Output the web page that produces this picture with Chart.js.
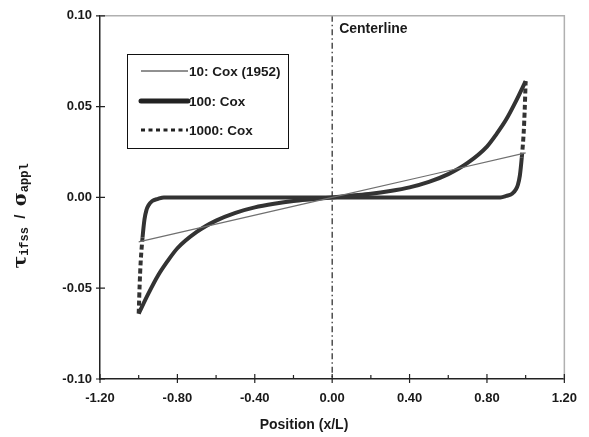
<!DOCTYPE html>
<html>
<head>
<meta charset="utf-8">
<script src="https://cdn.jsdelivr.net/npm/chart.js@4.4.1/dist/chart.umd.min.js"></script>
<style>
  html, body { margin: 0; padding: 0; background: #fff; }
  #wrap { width: 589px; height: 437px; }
</style>
</head>
<body>
<div id="wrap"><canvas id="chart" width="589" height="437"></canvas></div>
<script>
// Axis ticks
const xTicks = [-1.2, -0.8, -0.4, 0, 0.4, 0.8, 1.2];
const xMinorTicks = [-1.0, -0.6, -0.2, 0.2, 0.6, 1.0];
const yTicks = [-0.10, -0.05, 0, 0.05, 0.10];

// 10: Cox (1952) - nearly straight
const x10 = [-1.0, -0.5, 0, 0.5, 1.0];
const y10 = [-0.0245, -0.0122, 0, 0.0122, 0.0245];

// 100: Cox
const x100 = [-1.0, -0.95, -0.9, -0.85, -0.8, -0.7, -0.6, -0.5, -0.4, -0.3, -0.2, -0.1, 0,
              0.1, 0.2, 0.3, 0.4, 0.5, 0.6, 0.7, 0.8, 0.85, 0.9, 0.95, 1.0];
const y100 = [-0.064, -0.053, -0.043, -0.035, -0.028, -0.019, -0.0128, -0.0085, -0.0055, -0.0035, -0.002, -0.001, 0,
              0.001, 0.002, 0.0035, 0.0055, 0.0085, 0.0128, 0.019, 0.028, 0.035, 0.043, 0.053, 0.064];

// 1000: Cox
const x1000 = [-1.0, -0.995, -0.99, -0.98, -0.97, -0.96, -0.95, -0.93, -0.9, -0.87, 0,
               0.87, 0.9, 0.93, 0.95, 0.96, 0.97, 0.98, 0.99, 0.995, 1.0];
const y1000 = [-0.064, -0.048, -0.036, -0.022, -0.012, -0.007, -0.0045, -0.002, -0.0008, 0, 0,
               0, 0.0008, 0.002, 0.0045, 0.007, 0.012, 0.022, 0.036, 0.048, 0.064];

const toPoints = (xs, ys) => xs.map((x, i) => ({ x: x, y: ys[i] }));

const FONT = '"Liberation Sans", Arial, sans-serif';
const TEXT = '#1a1a1a';

const decorations = {
  id: 'decorations',
  beforeDatasetsDraw(chart) {
    const { ctx, chartArea: a, scales: { x } } = chart;
    const cx = x.getPixelForValue(0);
    ctx.save();
    ctx.strokeStyle = '#222';
    ctx.lineWidth = 1.2;
    ctx.setLineDash([6, 3, 1.5, 3]);
    ctx.beginPath();
    ctx.moveTo(cx, a.top);
    ctx.lineTo(cx, a.bottom);
    ctx.stroke();
    ctx.restore();
  },
  afterDraw(chart) {
    const { ctx, chartArea: a, scales: { x, y } } = chart;
    ctx.save();

    // light top and right frame
    ctx.strokeStyle = '#b0b0b0';
    ctx.lineWidth = 1.5;
    ctx.beginPath();
    ctx.moveTo(a.left, a.top);
    ctx.lineTo(a.right, a.top);
    ctx.lineTo(a.right, a.bottom);
    ctx.stroke();

    // tick marks
    ctx.strokeStyle = '#222';
    ctx.lineWidth = 1.2;
    ctx.beginPath();
    xTicks.forEach(v => {
      const px = x.getPixelForValue(v);
      ctx.moveTo(px, a.bottom - 5);
      ctx.lineTo(px, a.bottom + 4);
    });
    xMinorTicks.forEach(v => {
      const px = x.getPixelForValue(v);
      ctx.moveTo(px, a.bottom - 4);
      ctx.lineTo(px, a.bottom);
    });
    yTicks.forEach(v => {
      const py = y.getPixelForValue(v);
      ctx.moveTo(a.left - 4, py);
      ctx.lineTo(a.left + 5, py);
    });
    ctx.stroke();

    // Centerline label
    ctx.fillStyle = TEXT;
    ctx.font = 'bold 14px ' + FONT;
    ctx.textAlign = 'left';
    ctx.textBaseline = 'middle';
    ctx.fillText('Centerline', x.getPixelForValue(0) + 7, 29);

    // x title
    ctx.textAlign = 'center';
    ctx.fillText('Position (x/L)', 304, 425);

    // y title (rotated, with subscripts)
    ctx.translate(21, 216);
    ctx.rotate(-Math.PI / 2);
    const parts = [
      { t: '\u03C4', f: 'bold 19px "DejaVu Serif", serif', dy: 0 },
      { t: 'ifss', f: 'bold 12px "Liberation Mono", monospace', dy: 4 },
      { t: '  /  ', f: 'bold 15px ' + FONT, dy: 0 },
      { t: '\u03C3', f: 'bold 19px "DejaVu Serif", serif', dy: 0 },
      { t: 'appl', f: 'bold 12px "Liberation Mono", monospace', dy: 4 }
    ];
    let total = 0;
    parts.forEach(p => { ctx.font = p.f; p.w = ctx.measureText(p.t).width; total += p.w; });
    let pos = -total / 2;
    ctx.textAlign = 'left';
    parts.forEach(p => {
      ctx.font = p.f;
      ctx.fillText(p.t, pos, p.dy);
      pos += p.w;
    });
    ctx.restore();

    // legend box
    ctx.save();
    const bx = 127, by = 54, bw = 161, bh = 94;
    ctx.fillStyle = '#fff';
    ctx.fillRect(bx, by, bw, bh);
    ctx.strokeStyle = '#111';
    ctx.lineWidth = 1;
    ctx.strokeRect(bx + 0.5, by + 0.5, bw, bh);
    const rows = [71, 101, 130];
    const styles = [
      { w: 1, dash: [] },
      { w: 5, dash: [] },
      { w: 3, dash: [4, 3.5] }
    ];
    chart.data.datasets.forEach((ds, i) => {
      const ry = rows[i];
      ctx.strokeStyle = '#222';
      ctx.lineWidth = styles[i].w;
      ctx.setLineDash(styles[i].dash);
      ctx.lineCap = i === 1 ? 'round' : 'butt';
      ctx.beginPath();
      ctx.moveTo(141, ry);
      ctx.lineTo(188, ry);
      ctx.stroke();
      ctx.setLineDash([]);
      ctx.fillStyle = TEXT;
      ctx.font = 'bold 13.5px ' + FONT;
      ctx.textAlign = 'left';
      ctx.textBaseline = 'middle';
      ctx.fillText(ds.label, 189, ry + 1);
    });
    ctx.restore();
  }
};

const ctx = document.getElementById('chart').getContext('2d');
new Chart(ctx, {
  type: 'line',
  data: {
    datasets: [
      {
        label: '10: Cox (1952)',
        data: toPoints(x10, y10),
        borderColor: '#707070',
        borderWidth: 1.2,
        pointRadius: 0,
        tension: 0
      },
      {
        label: '100: Cox',
        data: toPoints(x100, y100),
        borderColor: '#333',
        borderWidth: 4,
        pointRadius: 0,
        cubicInterpolationMode: 'monotone'
      },
      {
        label: '1000: Cox',
        data: toPoints(x1000, y1000),
        borderColor: '#333',
        borderWidth: 4,
        pointRadius: 0,
        cubicInterpolationMode: 'monotone',
        segment: {
          borderDash: c => Math.abs(c.p1.parsed.y - c.p0.parsed.y) > 0.011 ? [5, 3] : undefined
        }
      }
    ]
  },
  options: {
    responsive: false,
    animation: false,
    layout: { padding: { top: 12, right: 23, left: 0, bottom: 0 } },
    plugins: {
      legend: { display: false },
      tooltip: { enabled: false }
    },
    scales: {
      x: {
        type: 'linear',
        min: -1.2,
        max: 1.2,
        afterBuildTicks: s => { s.ticks = xTicks.map(v => ({ value: v })); },
        afterFit: s => { s.height = 58; },
        grid: { display: false, drawTicks: false },
        border: { display: true, color: '#222', width: 1.5 },
        ticks: {
          padding: 12,
          color: TEXT,
          font: { family: FONT, size: 13, weight: 'bold' },
          maxRotation: 0,
          callback: v => v.toFixed(2)
        }
      },
      y: {
        type: 'linear',
        min: -0.1,
        max: 0.1,
        afterBuildTicks: s => { s.ticks = yTicks.map(v => ({ value: v })); },
        afterFit: s => { s.width = 100; },
        grid: { display: false, drawTicks: false },
        border: { display: true, color: '#222', width: 1.5 },
        ticks: {
          padding: 8,
          color: TEXT,
          font: { family: FONT, size: 13, weight: 'bold' },
          callback: v => v.toFixed(2)
        }
      }
    }
  },
  plugins: [decorations]
});
</script>
</body>
</html>
